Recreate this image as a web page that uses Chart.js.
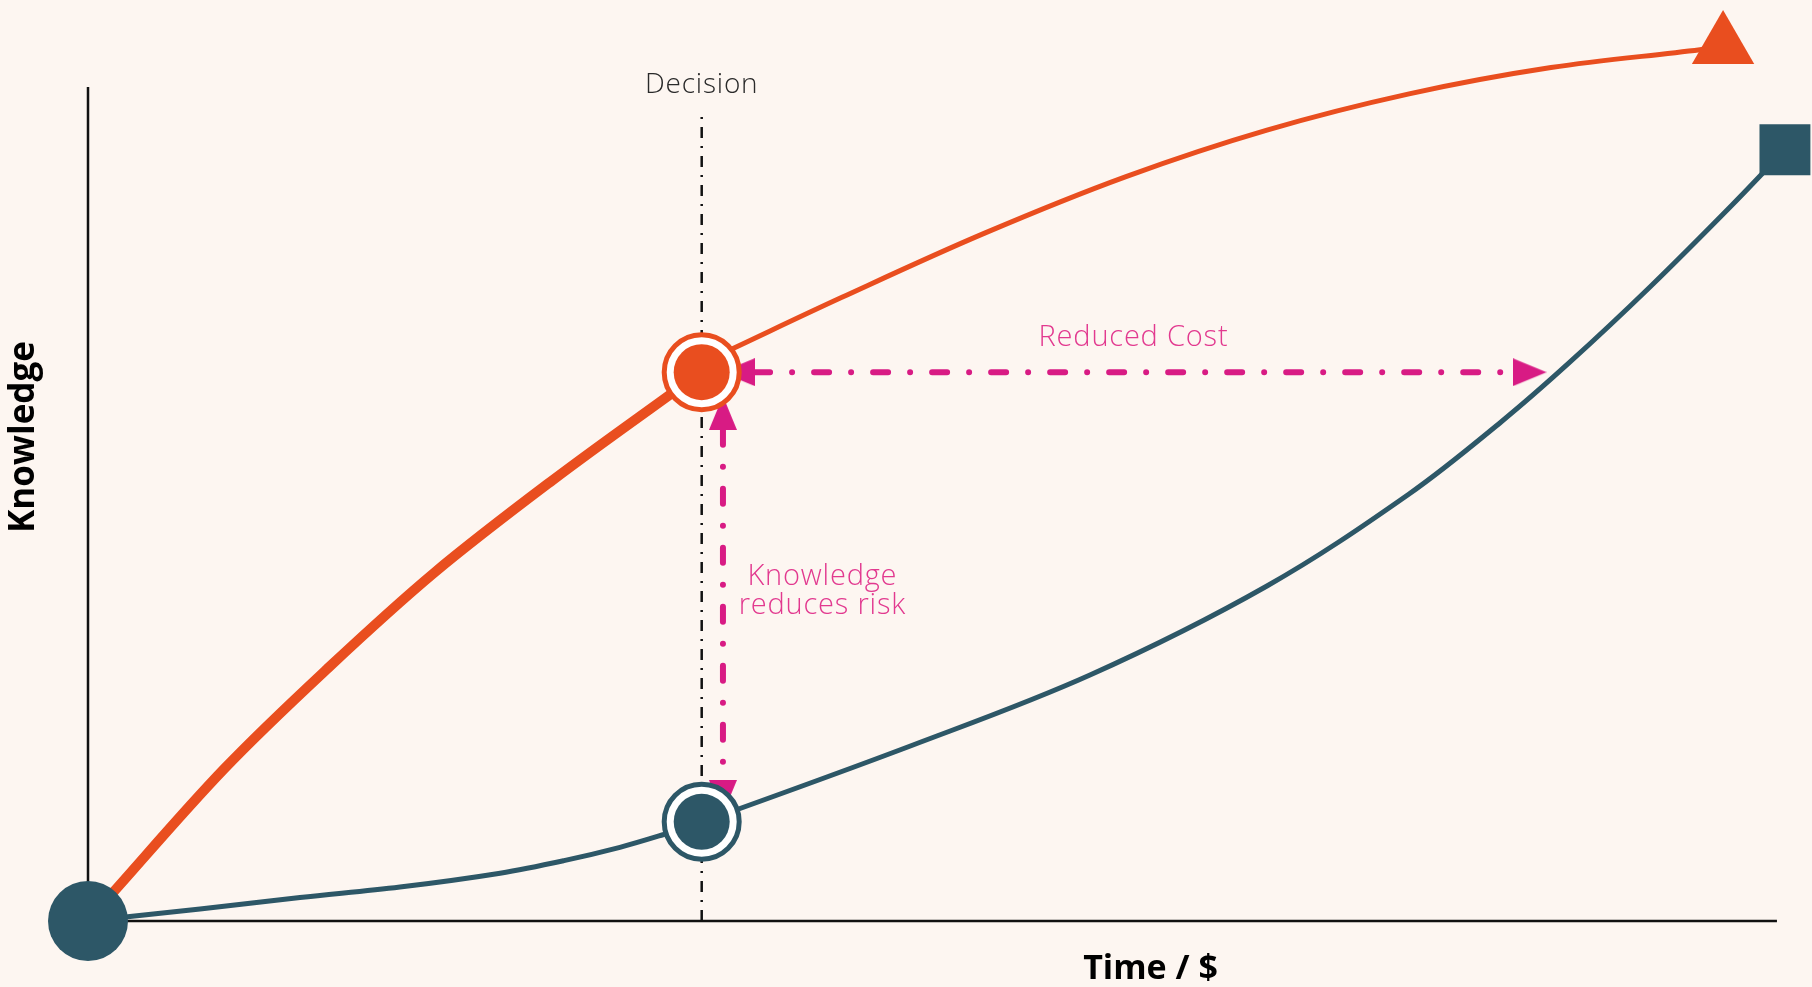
<!DOCTYPE html>
<html>
<head>
<meta charset="utf-8">
<script src="https://cdn.jsdelivr.net/npm/chart.js@4.4.0/dist/chart.umd.min.js"></script>
<style>
  html, body { margin: 0; padding: 0; background: #FDF6F1; }
  #wrap { width: 1812px; height: 987px; }
</style>
</head>
<body>
<div id="wrap"><canvas id="knowledgeChart"></canvas></div>
<script>
// values (x = time / $, y = knowledge)
var decisionX = 36.1;
var orangeEarlyX = [0, 1.29, 8, 14.06, 20.35, 27.35, 34.29, 36.1];
var orangeEarlyY = [0, 3.13, 19, 31.5, 43.5, 55.13, 65.88, 68.6];
var orangeLateX = [37.88, 44.35, 52.71, 61.06, 69.35, 77.71, 86.06, 94.82, 96.18];
var orangeLateY = [71.5, 77.96, 85.95, 93.05, 98.86, 103.39, 106.68, 108.91, 109.38];
var blueX = [0, 6.59, 12.47, 18.35, 24.24, 28, 31.29, 33.82, 36.1, 48.53, 58.94, 69.35, 77.71, 83.12, 87.18, 91.88, 96.71, 99.82];
var blueY = [0, 1.5, 2.94, 4.25, 5.98, 7.55, 9.21, 10.78, 12.34, 22, 30.75, 41.88, 53.38, 62.38, 69.88, 79.25, 89.5, 96.4];
var decisionY = [68.6, 12.4]; // orange, blue at the decision
var axisXEnd = 99.35;
var axisYTop = 104.25;
var decisionLineTop = 100.5;
// the two arrows (reduced cost, knowledge reduces risk)
var costArrowX = [39.24, 83.8];
var costArrowY = 68.6;
var riskArrowX = 37.35;
var riskArrowY = [61.4, 17.6];

var orange = '#E94E1F';
var blue = '#2D5767';
var magenta = '#D81B84';

function pts(xs, ys) {
  return xs.map(function (x, i) { return { x: x, y: ys[i] }; });
}

// arrow head pointing right, turned with pointRotation
function arrowHead(len, wid, color) {
  var c = document.createElement('canvas');
  c.width = len; c.height = wid;
  var g = c.getContext('2d');
  g.fillStyle = color;
  g.beginPath();
  g.moveTo(0, 0); g.lineTo(len, wid / 2); g.lineTo(0, wid);
  g.closePath(); g.fill();
  return c;
}
var head = arrowHead(34, 28, magenta);

var labelPlugin = {
  id: 'labels',
  afterDraw: function (chart, args, opts) {
    var c = chart.ctx, xs = chart.scales.x, ys = chart.scales.y;
    opts.items.forEach(function (it) {
      c.save();
      c.font = it.font;
      c.fillStyle = it.color;
      c.textAlign = 'center';
      c.textBaseline = it.baseline || 'alphabetic';
      if ('letterSpacing' in c) c.letterSpacing = it.spacing || '0px';
      c.translate(xs.getPixelForValue(it.x), ys.getPixelForValue(it.y));
      if (it.rotate) c.rotate(it.rotate);
      c.fillText(it.text, 0, 0);
      c.restore();
    });
  }
};

var ctx = document.getElementById('knowledgeChart').getContext('2d');
var knowledgeChart = new Chart(ctx, {
  type: 'line',
  data: {
    datasets: [
      { // axes
        data: [{ x: 0, y: axisYTop }, { x: 0, y: 0 }, { x: axisXEnd, y: 0 }],
        borderColor: '#111', borderWidth: 2.5, pointRadius: 0, tension: 0, order: 10
      },
      { // decision line
        data: [{ x: decisionX, y: 0 }, { x: decisionX, y: decisionLineTop }],
        borderColor: '#111', borderWidth: 2.5, borderDash: [11, 8, 2, 8], pointRadius: 0, tension: 0, order: 9
      },
      { // reduced cost line
        data: pts(costArrowX, [costArrowY, costArrowY]),
        borderColor: magenta, borderWidth: 6, borderDash: [15, 22, 0.01, 22],
        borderCapStyle: 'round', pointRadius: 0, tension: 0, order: 8
      },
      { // knowledge reduces risk line
        data: pts([riskArrowX, riskArrowX], riskArrowY),
        borderColor: magenta, borderWidth: 6, borderDash: [15, 22, 0.01, 22],
        borderCapStyle: 'round', pointRadius: 0, tension: 0, order: 8
      },
      { // arrow heads
        data: [
          { x: costArrowX[0] - 1.0, y: costArrowY },
          { x: costArrowX[1] + 1.0, y: costArrowY },
          { x: riskArrowX, y: riskArrowY[0] + 2.1 },
          { x: riskArrowX, y: riskArrowY[1] - 2.1 }
        ],
        showLine: false, pointStyle: head, pointRadius: 20,
        pointRotation: [180, 0, -90, 90], order: 7
      },
      { // orange, before decision (thick)
        data: pts(orangeEarlyX, orangeEarlyY),
        borderColor: orange, borderWidth: 10, tension: 0.35,
        pointRadius: 0, order: 6
      },
      { // orange, after decision
        data: pts(orangeLateX, orangeLateY),
        borderColor: orange, borderWidth: 5, tension: 0.35,
        pointRadius: orangeLateX.map(function (v, i) { return i === orangeLateX.length - 1 ? 36 : 0; }),
        pointStyle: 'triangle', pointBackgroundColor: orange, pointBorderWidth: 0, order: 6
      },
      { // blue
        data: pts(blueX, blueY),
        borderColor: blue, borderWidth: 5, tension: 0.35,
        pointRadius: blueX.map(function (v, i) { return i === 0 ? 40 : (i === blueX.length - 1 ? 36 : 0); }),
        pointStyle: blueX.map(function (v, i) { return i === blueX.length - 1 ? 'rect' : 'circle'; }),
        pointBackgroundColor: blue, pointBorderWidth: 0, order: 5
      },
      { // decision rings
        data: pts([decisionX, decisionX], decisionY),
        showLine: false, pointRadius: 37.5, pointBorderWidth: 5,
        pointBackgroundColor: '#FFFFFF', pointBorderColor: [orange, blue], order: 2
      },
      { // decision cores
        data: pts([decisionX, decisionX], decisionY),
        showLine: false, pointRadius: 28, pointBorderWidth: 0,
        pointBackgroundColor: [orange, blue], order: 1
      }
    ]
  },
  options: {
    responsive: true,
    maintainAspectRatio: false,
    animation: false,
    events: [],
    layout: { autoPadding: false, padding: { left: 88, right: 24, top: 9, bottom: 66 } },
    datasets: { line: { clip: false, fill: false } },
    scales: {
      x: { type: 'linear', min: 0, max: 100, display: false },
      y: { type: 'linear', min: 0, max: 114, display: false }
    },
    plugins: {
      legend: { display: false },
      tooltip: { enabled: false },
      labels: {
        items: [
          { text: 'Decision', x: decisionX, y: 103.5, font: '300 28px "Open Sans", sans-serif', color: '#2a2a2a', spacing: '0.8px' },
          { text: 'Reduced Cost', x: 61.5, y: 71.9, font: '300 29px "Open Sans", sans-serif', color: '#E2398F', spacing: '0.8px' },
          { text: 'Knowledge', x: 43.2, y: 42, font: '300 29px "Open Sans", sans-serif', color: '#E2398F', spacing: '0.8px' },
          { text: 'reduces risk', x: 43.2, y: 38.4, font: '300 29px "Open Sans", sans-serif', color: '#E2398F', spacing: '0.8px' },
          { text: 'Time / $', x: 62.5, y: -7.25, font: 'bold 34px "Open Sans", sans-serif', color: '#000' },
          { text: 'Knowledge', x: -3.76, y: 60.5, font: 'bold 35px "Open Sans", sans-serif', color: '#000', baseline: 'middle', rotate: -Math.PI / 2 }
        ]
      }
    }
  },
  plugins: [labelPlugin]
});
</script>
</body>
</html>
